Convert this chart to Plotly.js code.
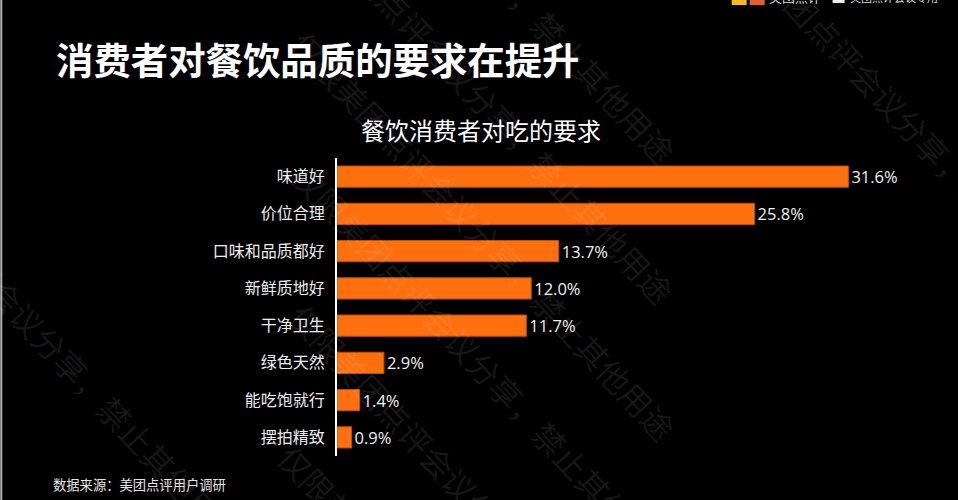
<!DOCTYPE html>
<html><head><meta charset="utf-8">
<script src="https://cdn.plot.ly/plotly-3.0.1.min.js"></script>
<style>html,body{margin:0;padding:0;background:#000;overflow:hidden}#c{width:958px;height:500px}</style>
</head><body><div id="c"></div>
<script>
const categories=["味道好","价位合理","口味和品质都好","新鲜质地好","干净卫生","绿色天然","能吃饱就行","摆拍精致"];
const values=[31.6,25.8,13.7,12.0,11.7,2.9,1.4,0.9];
const labels=["31.6%","25.8%","13.7%","12.0%","11.7%","2.9%","1.4%","0.9%"];
const mainTitle="消费者对餐饮品质的要求在提升";
const subTitle="餐饮消费者对吃的要求";
const source="数据来源：美团点评用户调研";
const wmText="仅限美团点评会议分享，禁止其他用途";
const wmCenters=[[484,-42],[482,98],[484,235],[485,368],[482,508],[471,649],[50,343],[912,125]];
const font="'Noto Sans CJK SC','Noto Sans',sans-serif";
const W=958,H=500,L=337,R=5.5,T=158,B=44;
const px=x=>(x-L)/(W-L-R), py=y=>1-(y-T)/(H-T-B);
const ann=[];
const note=(text,x,y,anchor,size,color,extra)=>ann.push(Object.assign({text,x:px(x),y:py(y),xref:'paper',yref:'paper',xanchor:anchor,yanchor:'middle',showarrow:false,font:{family:font,size,color}},extra||{}));
wmCenters.forEach(([x,y])=>note(wmText,x,y,'center',32,'rgba(255,255,255,0.09)',{textangle:47}));
note('<b>'+mainTitle+'</b>',54,59,'left',37.4,'#fff');
note(subTitle,481,129,'center',24,'#fff');
note(source,51,484,'left',13.3,'#e6e6e6');
note('美团点评',767,-3,'left',13,'#ddd');
note('美团点评会议专用',848,-3,'left',11,'#ddd');
const rect=(x0,x1,y0,y1,c)=>({type:'rect',xref:'paper',yref:'paper',x0:px(x0),x1:px(x1),y0:py(y1),y1:py(y0),line:{width:0},fillcolor:c,layer:'above'});
const shapes=[rect(0,2,0,500,'#b5b5b5'),rect(732,747,0,5,'#f5b921'),rect(750,765,0,5,'#e2602e'),rect(833,845,0,3,'#eee')];
Plotly.newPlot('c',[{type:'bar',orientation:'h',y:categories,x:values,text:labels,textposition:'outside',cliponaxis:false,constraintext:'none',
 textfont:{family:"'Open Sans',sans-serif",size:16.5,color:'#f2f2f2'},marker:{color:'#ff6f0e',line:{color:'#b9500a',width:1}},hoverinfo:'skip'}],
{width:W,height:H,paper_bgcolor:'#000',plot_bgcolor:'rgba(0,0,0,0)',showlegend:false,bargap:0.43,
 margin:{l:L,r:R,t:T,b:B,pad:0},
 xaxis:{range:[0,38],visible:false,fixedrange:true},
 yaxis:{autorange:'reversed',showline:true,linecolor:'#fff',linewidth:2,ticks:'',showgrid:false,zeroline:false,ticklabelstandoff:7,
  tickfont:{family:font,size:16,color:'#eee'},fixedrange:true},
 annotations:ann,shapes:shapes},{displayModeBar:false,staticPlot:true});
</script></body></html>
